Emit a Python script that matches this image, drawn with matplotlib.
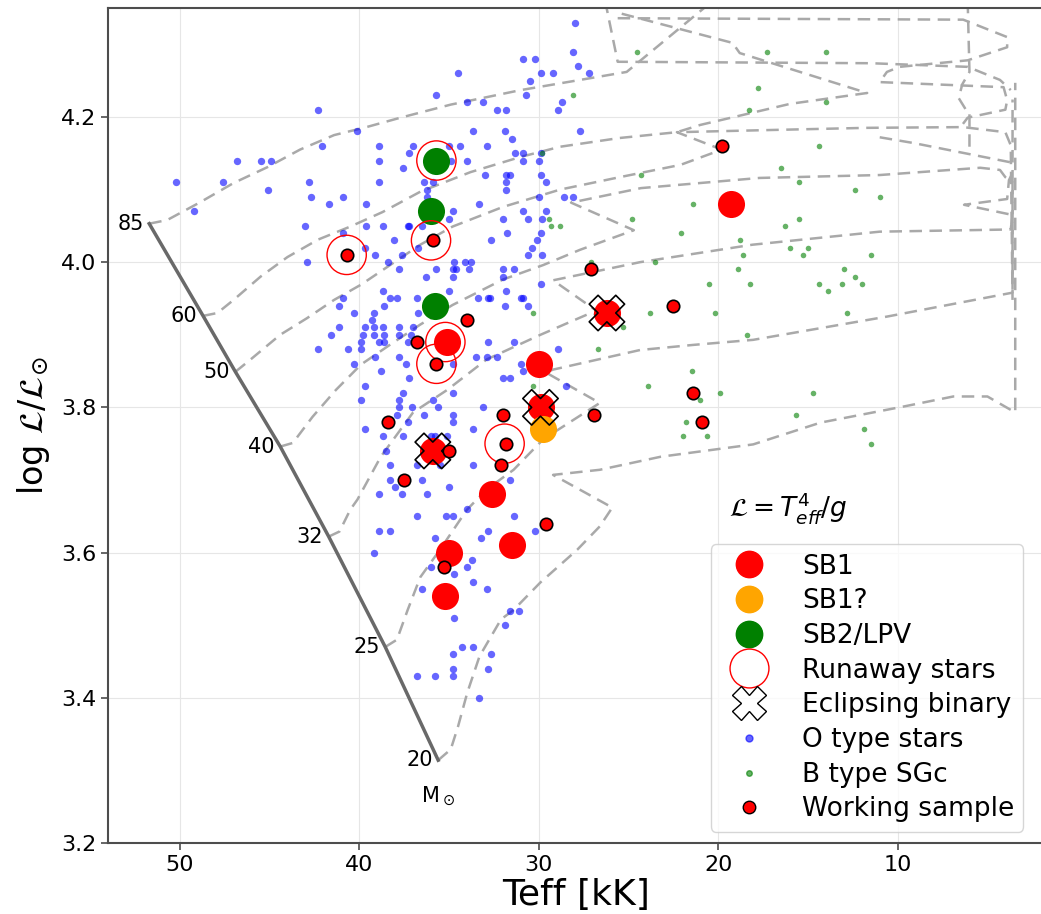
import numpy as np
import matplotlib.pyplot as plt
from matplotlib.lines import Line2D

# ---- O type stars (Teff [kK], log L/Lsun spectroscopic) ----
o_teff = [35.7, 42.3, 40.1, 42.1, 38.9, 37.0, 46.8, 45.5, 44.9, 38.9, 37.2, 37.55, 50.2, 47.6,
          42.8, 38.9, 36.4, 45.1, 42.7, 40.9, 36.2, 36.2, 41.7, 39.6, 49.2, 43.0, 39.6, 38.7,
          37.3, 37.2, 36.5, 40.9, 38.05, 39.7, 39.1, 37.6, 36.7, 42.9, 38.4, 37.8, 35.7, 36.3,
          38.7, 38.3, 37.9, 40.9, 38.6, 36.8, 41.1, 40.3, 39.2, 36.7, 39.3, 39.7, 39.2, 38.7,
          37.8, 37.0, 41.1, 41.6, 39.8, 39.2, 38.6, 37.8, 37.1, 39.9, 38.9, 38.6, 42.3, 40.6,
          39.9, 39.1, 37.8,
          34.7, 34.1, 33.8, 34.8, 34.6, 33.9, 34.8, 32.0, 32.0, 31.4, 35.0, 33.4, 32.8, 32.7,
          31.8, 31.0, 31.9, 30.6, 37.3, 33.5, 32.9, 32.3, 37.4, 34.8, 40.3, 38.8, 37.2, 31.0,
          30.9, 32.8, 31.4, 32.0, 31.6, 39.7, 39.9, 37.55, 37.8, 37.8, 37.05, 34.8, 35.9, 35.6,
          37.9, 36.4, 34.8, 37.3, 34.8, 33.1, 39.7, 38.7, 37.55, 36.0, 35.8, 33.65, 38.5, 36.8,
          33.65, 38.3, 38.0, 37.6, 36.5, 36.2, 35.0, 38.9, 31.6, 35.1,
          38.3, 35.5, 36.8, 35.15, 34.8, 34.0, 31.4, 38.9, 38.3, 35.8, 33.2, 32.8, 30.2, 39.2,
          36.0, 34.7, 34.0, 33.7, 33.65, 32.9, 36.5, 34.7, 31.6, 31.1, 31.9, 34.3, 33.65, 34.8,
          32.65, 34.8, 32.8, 36.8, 35.8, 34.8, 33.3,
          34.0, 33.1, 32.3, 31.8, 28.7, 28.9, 33.65, 31.9, 27.7, 31.5, 35.0, 34.4, 32.9, 31.3,
          30.9, 29.9, 34.0, 30.9, 30.0, 34.9, 35.9, 33.0, 31.8, 31.6, 29.9, 31.8, 31.8, 29.6,
          30.0, 28.6, 28.1, 33.3, 34.8, 30.9, 29.6, 35.0, 32.0, 30.6, 29.8, 31.75, 29.9, 32.65,
          30.1, 30.4, 30.6, 29.8, 29.9, 28.9, 28.5,
          28.0, 28.1, 30.9, 30.2, 27.8, 29.9, 29.2, 27.2, 30.5, 30.7, 30.9, 34.5]
o_logl = [4.23, 4.21, 4.18, 4.16, 4.16, 4.16, 4.14, 4.14, 4.14, 4.14, 4.15, 4.13, 4.11, 4.11,
          4.11, 4.11, 4.11, 4.10, 4.09, 4.09, 4.10, 4.09, 4.08, 4.08, 4.07, 4.05, 4.05, 4.05,
          4.05, 4.05, 4.05, 4.04, 4.03, 4.02, 4.01, 4.01, 4.02, 4.00, 4.00, 3.99, 3.99, 3.98,
          3.96, 3.95, 3.95, 3.95, 3.94, 3.95, 3.94, 3.93, 3.93, 3.93, 3.92, 3.91, 3.91, 3.91,
          3.91, 3.91, 3.91, 3.90, 3.90, 3.90, 3.90, 3.90, 3.90, 3.89, 3.89, 3.89, 3.88, 3.88,
          3.88, 3.87, 3.87,
          4.00, 4.00, 4.00, 3.99, 3.99, 3.99, 3.98, 3.99, 3.98, 3.99, 3.96, 3.95, 3.95, 3.95,
          3.96, 3.95, 3.94, 3.94, 3.89, 3.87, 3.87, 3.87, 3.86, 3.86, 3.86, 3.85, 3.84, 3.86,
          3.85, 3.89, 3.89, 3.84, 3.84, 3.83, 3.81, 3.82, 3.81, 3.80, 3.80, 3.82, 3.81, 3.80,
          3.79, 3.79, 3.79, 3.78, 3.78, 3.80, 3.77, 3.76, 3.76, 3.76, 3.76, 3.77, 3.74, 3.72,
          3.72, 3.70, 3.69, 3.68, 3.70, 3.68, 3.69, 3.68, 3.70, 3.76,
          3.72, 3.72, 3.65, 3.65, 3.65, 3.66, 3.65, 3.63, 3.63, 3.62, 3.62, 3.63, 3.63, 3.60,
          3.58, 3.57, 3.58, 3.59, 3.56, 3.55, 3.55, 3.51, 3.52, 3.52, 3.50, 3.47, 3.47, 3.46,
          3.46, 3.44, 3.44, 3.43, 3.43, 3.43, 3.40,
          4.22, 4.22, 4.21, 4.21, 4.22, 4.21, 4.18, 4.18, 4.18, 4.17, 4.16, 4.16, 4.16, 4.15,
          4.15, 4.15, 4.14, 4.14, 4.14, 4.14, 4.11, 4.12, 4.12, 4.12, 4.12, 4.11, 4.10, 4.11,
          4.09, 4.09, 4.09, 4.08, 4.07, 4.07, 4.07, 4.06, 4.06, 4.06, 4.06, 4.04, 4.04, 4.03,
          4.03, 4.02, 4.01, 4.01, 3.97, 3.88, 3.83,
          4.33, 4.29, 4.28, 4.28, 4.27, 4.26, 4.26, 4.26, 4.25, 4.23, 3.95, 4.26]

# ---- B type supergiants ----
b_teff = [24.5, 17.3, 14.0, 28.1, 17.8, 18.3, 14.0, 14.4, 16.5, 15.5, 24.3, 12.4, 11.0, 21.4,
          29.4, 29.3, 28.8, 24.8, 15.5, 16.3, 22.1, 18.8, 16.0, 15.0, 18.6, 15.3, 11.5, 27.1,
          23.5, 18.9, 13.0, 12.4, 12.0, 20.5, 18.2, 14.4, 13.1, 13.9, 30.3, 23.8, 20.2, 12.8,
          25.3, 18.4, 26.7, 21.45, 30.3, 23.9, 19.9, 14.7, 21.0, 15.65, 21.8, 11.9, 21.95, 20.6,
          11.5, 29.8]
b_logl = [4.29, 4.29, 4.29, 4.23, 4.24, 4.21, 4.22, 4.16, 4.13, 4.11, 4.12, 4.10, 4.09, 4.08,
          4.06, 4.05, 4.05, 4.06, 4.06, 4.05, 4.04, 4.03, 4.02, 4.02, 4.01, 4.01, 4.01, 4.00,
          4.00, 3.99, 3.99, 3.98, 3.97, 3.97, 3.97, 3.97, 3.97, 3.96, 3.93, 3.93, 3.93, 3.93,
          3.91, 3.90, 3.88, 3.85, 3.83, 3.83, 3.82, 3.82, 3.81, 3.79, 3.78, 3.77, 3.76, 3.76,
          3.75, 4.15]

# ---- working sample and classifications ----
ws_teff = [40.7, 35.9, 34.0, 36.8, 35.7, 31.8, 32.0, 32.1, 38.4, 37.5, 35.0, 35.3, 29.6,
           27.1, 26.9, 22.5, 21.4, 20.9, 19.8]
ws_logl = [4.01, 4.03, 3.92, 3.89, 3.86, 3.75, 3.79, 3.72, 3.78, 3.70, 3.74, 3.58, 3.64,
           3.99, 3.79, 3.94, 3.82, 3.78, 4.16]

sb1_teff = [35.1, 30.0, 19.3, 32.6, 31.5, 35.0, 35.2, 26.2, 29.9, 35.9]
sb1_logl = [3.89, 3.86, 4.08, 3.68, 3.61, 3.60, 3.54, 3.93, 3.80, 3.74]
sb1q_teff = [29.75]
sb1q_logl = [3.77]
sb2_teff = [35.7, 36.0, 35.8]
sb2_logl = [4.14, 4.07, 3.94]
run_teff = [35.7, 36.0, 40.7, 35.2, 35.7, 31.9]
run_logl = [4.14, 4.03, 4.01, 3.89, 3.86, 3.75]
ecl_teff = [26.2, 29.9, 35.9]
ecl_logl = [3.93, 3.80, 3.74]

# ---- evolutionary tracks ----
zams_teff = [51.7, 48.7, 46.9, 44.4, 41.7, 38.55, 35.6]
zams_logl = [4.053, 3.926, 3.849, 3.746, 3.622, 3.470, 3.314]
mass_labels = ['85', '60', '50', '40', '32', '25', '20']

t85_teff = [51.7, 50.7, 48.9, 47.0, 45.1, 43.3, 41.4, 39.6, 37.7, 34.9, 31.0, 25.1, 20.3]
t85_logl = [4.053, 4.058, 4.082, 4.109, 4.131, 4.155, 4.175, 4.186, 4.199, 4.217, 4.237, 4.262, 4.36]
t85b_teff = [26.3, 25.6, 11.5, 6.1, 4.3, 3.7]
t85b_logl = [4.36, 4.276, 4.274, 4.269, 4.251, 4.237]
t85c_teff = [25.6, 6.35, 3.9, 3.9, 6.1, 9.9, 10.6, 11.0, 4.1, 3.9, 4.0, 6.1, 6.5]
t85c_logl = [4.336, 4.334, 4.310, 4.296, 4.278, 4.269, 4.262, 4.248, 4.241, 4.223, 4.210,
             4.199, 4.186]
t85d_teff = [6.1, 6.0, 6.4, 6.6, 6.2, 6.0, 6.0]
t85d_logl = [4.36, 4.262, 4.245, 4.226, 4.210, 4.207, 4.159]

t60_teff = [48.7, 47.9, 47.0, 45.5, 44.0, 42.3, 40.5, 38.7, 36.6, 33.8, 31.0, 28.8, 25.5, 22.3,
            21.0, 16.0, 11.7, 18.8, 19.2, 25.5]
t60_logl = [3.926, 3.930, 3.948, 3.980, 4.007, 4.031, 4.049, 4.069, 4.097, 4.124, 4.145, 4.159,
            4.171, 4.179, 4.189, 4.218, 4.233, 4.288, 4.302, 4.343]

t50_teff = [46.9, 46.1, 44.4, 42.9, 41.4, 39.9, 36.6, 34.8, 32.0, 28.8, 25.5, 22.1, 19.8, 22.3,
            17.1, 11.7, 6.35, 4.0, 3.7, 3.6]
t50_logl = [3.849, 3.865, 3.900, 3.923, 3.948, 3.969, 4.024, 4.049, 4.076, 4.100, 4.117, 4.134,
            4.155, 4.179, 4.182, 4.185, 4.186, 4.179, 4.161, 3.948]
t50b_teff = [11.0, 9.1, 3.6]
t50b_logl = [4.172, 4.164, 4.137]

t40_teff = [44.4, 43.7, 42.6, 41.3, 39.9, 38.3, 36.6, 34.8, 32.0, 29.75, 27.7, 24.7, 28.2, 24.3,
            17.7, 11.0, 5.4, 4.3, 4.0, 3.6, 3.6]
t40_logl = [3.746, 3.751, 3.787, 3.824, 3.859, 3.886, 3.914, 3.941, 3.976, 3.996, 4.017, 4.044,
            4.082, 4.102, 4.116, 4.120, 4.130, 4.127, 4.117, 4.110, 3.962]

t32_teff = [41.7, 41.1, 40.5, 40.1, 38.8, 37.0, 35.1, 32.9, 29.9, 27.1, 26.2, 29.2, 24.35, 18.1,
            11.0, 3.7, 3.6, 6.3, 3.9, 3.8, 3.6]
t32_logl = [3.622, 3.629, 3.659, 3.673, 3.732, 3.793, 3.824, 3.866, 3.900, 3.930, 3.923, 3.975,
            4.000, 4.024, 4.042, 4.045, 4.065, 4.079, 4.087, 4.113, 4.123]

t25_teff = [38.55, 37.9, 37.3, 36.6, 35.5, 34.0, 32.9, 31.4, 29.75, 26.6, 29.6, 29.2, 24.35,
            21.4, 18.05, 10.6, 3.6, 3.6]
t25_logl = [3.470, 3.480, 3.521, 3.566, 3.604, 3.659, 3.687, 3.714, 3.756, 3.806, 3.848, 3.852,
            3.879, 3.886, 3.893, 3.925, 3.958, 4.224]

t20_teff = [35.6, 34.9, 34.5, 33.98, 33.3, 32.1, 31.4, 29.9, 27.85, 26.6, 25.9, 29.2, 26.6,
            23.2, 18.05, 14.3, 9.7, 6.9, 5.0, 3.45, 3.45]
t20_logl = [3.314, 3.329, 3.360, 3.407, 3.457, 3.508, 3.521, 3.559, 3.604, 3.636, 3.662, 3.707,
            3.714, 3.732, 3.749, 3.779, 3.801, 3.815, 3.815, 3.793, 4.247]

tracks = [(t85_teff, t85_logl), (t85b_teff, t85b_logl), (t85c_teff, t85c_logl),
          (t85d_teff, t85d_logl), (t60_teff, t60_logl), (t50_teff, t50_logl),
          (t50b_teff, t50b_logl), (t40_teff, t40_logl), (t32_teff, t32_logl),
          (t25_teff, t25_logl), (t20_teff, t20_logl)]

fig = plt.figure(figsize=(10.41, 9.14), dpi=100)
ax = fig.add_axes([0.1037, 0.0777, 0.900, 0.9135])

for tt, ll in tracks:
    ax.plot(tt, ll, color='darkgray', ls='--', lw=1.8, dashes=(5, 3), zorder=1)
ax.plot(zams_teff, zams_logl, color='dimgray', lw=2.5, zorder=1)
for t, l, lab in zip(zams_teff, zams_logl, mass_labels):
    ax.annotate(lab, (t, l), xytext=(-4, 0), textcoords='offset points',
                ha='right', va='center', fontsize=15)
ax.annotate(r'M$_\odot$', (zams_teff[-1], zams_logl[-1]), xytext=(0, -26),
            textcoords='offset points', ha='center', va='center', fontsize=15)

ax.scatter(o_teff, o_logl, s=28, color='blue', alpha=0.6, lw=0, zorder=2)
ax.scatter(b_teff, b_logl, s=16, color='green', alpha=0.6, lw=0, zorder=2)
ax.scatter(sb1_teff, sb1_logl, s=380, color='red', lw=0, zorder=4)
ax.scatter(sb1q_teff, sb1q_logl, s=380, color='orange', lw=0, zorder=4)
ax.scatter(sb2_teff, sb2_logl, s=380, color='green', lw=0, zorder=4)
ax.scatter(ecl_teff, ecl_logl, s=650, marker='X', facecolor='none', edgecolor='black',
           lw=1.2, zorder=5)
ax.scatter(run_teff, run_logl, s=800, facecolor='none', edgecolor='red', lw=1, zorder=5)
ax.scatter(ws_teff, ws_logl, s=80, color='red', edgecolor='black', lw=1.2, zorder=6)

ax.text(19.4, 3.662, r'$\mathcal{L} = T_{eff}^4/g$', fontsize=19, ha='left', va='center')

handles = [
    Line2D([], [], ls='', marker='o', ms=19, color='red', label='SB1'),
    Line2D([], [], ls='', marker='o', ms=19, color='orange', label='SB1?'),
    Line2D([], [], ls='', marker='o', ms=19, color='green', label='SB2/LPV'),
    Line2D([], [], ls='', marker='o', ms=28, mfc='none', mec='red', label='Runaway stars'),
    Line2D([], [], ls='', marker='X', ms=24, mfc='none', mec='black', label='Eclipsing binary'),
    Line2D([], [], ls='', marker='o', ms=5, color='blue', alpha=0.6, label='O type stars'),
    Line2D([], [], ls='', marker='o', ms=4, color='green', alpha=0.6, label='B type SGc'),
    Line2D([], [], ls='', marker='o', ms=9, mfc='red', mec='black', label='Working sample'),
]
ax.legend(handles=handles, loc='lower left', bbox_to_anchor=(0.6435, 0.0135), borderaxespad=0,
          fontsize=19, labelspacing=0.33, handlelength=2.2, handletextpad=0.9,
          borderpad=0.35, framealpha=0.8)

ax.set_xlim(54, 1.8)
ax.set_ylim(3.2, 4.35)
ax.set_xticks([50, 40, 30, 20, 10])
ax.set_yticks([3.2, 3.4, 3.6, 3.8, 4.0, 4.2])
ax.set_yticklabels(['3.2', '3.4', '3.6', '3.8', '4.0', '4.2'])
ax.tick_params(labelsize=16, color='0.3', width=1.2, length=5)
ax.grid(color='0.9', lw=0.8)
ax.set_axisbelow(True)
for sp in ax.spines.values():
    sp.set_color('0.3')
    sp.set_linewidth(1.5)
ax.set_xlabel('Teff [kK]', fontsize=26, labelpad=2)
ax.set_ylabel(r'log $\mathcal{L}/\mathcal{L}_{\odot}$', fontsize=24, labelpad=6)

fig.savefig('out.png', dpi=100)
